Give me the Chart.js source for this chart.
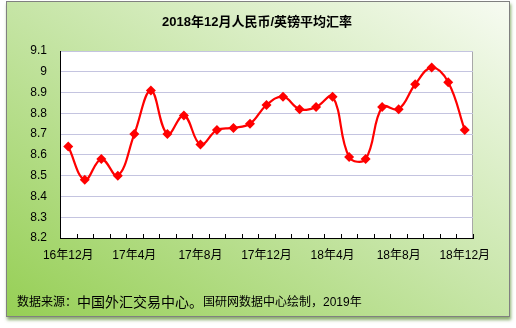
<!DOCTYPE html>
<html>
<head>
<meta charset="utf-8">
<script src="https://cdn.jsdelivr.net/npm/chart.js@4"></script>
<style>
  body { margin: 0; background: #fff; }
  #frame {
    position: absolute; left: 6px; top: 1px; width: 502px; height: 314px;
    border: 1px solid #808080;
    background: linear-gradient(to top right, #96cf55 0%, #c6e5a6 50%, #f7fbf2 100%);
    box-shadow: 1px 3px 3px rgba(90, 140, 50, 0.7);
  }
  #chart { position: absolute; left: 0; top: 0; }
</style>
</head>
<body>
<div id="frame"></div>
<canvas id="chart" width="516" height="328"></canvas>
<script>
// months from 16年12月 to 18年12月
const months = [
  '16年12月', '17年1月', '17年2月', '17年3月', '17年4月', '17年5月', '17年6月',
  '17年7月', '17年8月', '17年9月', '17年10月', '17年11月', '17年12月',
  '18年1月', '18年2月', '18年3月', '18年4月', '18年5月', '18年6月',
  '18年7月', '18年8月', '18年9月', '18年10月', '18年11月', '18年12月'
];
// average CNY per GBP
const rates = [
  8.64, 8.48, 8.58, 8.50, 8.70, 8.91, 8.70,
  8.79, 8.65, 8.72, 8.73, 8.75, 8.84,
  8.88, 8.82, 8.83, 8.88, 8.59, 8.58,
  8.83, 8.82, 8.94, 9.02, 8.95, 8.72
];
const yMin = 8.2;
const yMax = 9.1;
const yStep = 0.1;

const titleText = '2018年12月人民币/英镑平均汇率';
const sourceParts = ['数据来源：', '中国外汇交易中心。', '国研网数据中心绘制，2019年'];

const fontFamily = '"Liberation Sans", "Noto Sans CJK SC", sans-serif';

// white plot area with thin grey frame
const plotBg = {
  id: 'plotBg',
  beforeDraw(chart) {
    const { ctx, chartArea: a } = chart;
    ctx.save();
    ctx.fillStyle = '#ffffff';
    ctx.fillRect(a.left, a.top, a.right - a.left, a.bottom - a.top);
    ctx.strokeStyle = '#a8a8a8';
    ctx.lineWidth = 1;
    ctx.strokeRect(a.left + 0.5, a.top + 0.5, a.right - a.left - 1, a.bottom - a.top);
    ctx.restore();
  }
};

// title, tick marks pointing up into the plot, and the source line
const extras = {
  id: 'extras',
  afterDraw(chart) {
    const { ctx, chartArea: a } = chart;
    const xs = chart.scales.x;
    const half = (xs.getPixelForValue(1) - xs.getPixelForValue(0)) / 2;
    ctx.save();
    ctx.strokeStyle = '#000';
    ctx.lineWidth = 1;
    ctx.beginPath();
    for (let i = 0; i < months.length; i++) {
      const x = Math.round(xs.getPixelForValue(i) + half) + 0.5;
      ctx.moveTo(x, a.bottom);
      ctx.lineTo(x, a.bottom - 4);
    }
    ctx.stroke();

    ctx.fillStyle = '#000';
    ctx.textBaseline = 'middle';
    ctx.textAlign = 'center';
    ctx.font = 'bold 13px ' + fontFamily;
    ctx.fillText(titleText, 257, 22);

    // source note
    const sizes = [12, 14, 12];
    let x = 17;
    ctx.textAlign = 'left';
    sourceParts.forEach((t, i) => {
      ctx.font = sizes[i] + 'px ' + fontFamily;
      ctx.fillText(t, x, 303);
      x += ctx.measureText(t).width;
    });
    ctx.restore();
  }
};

new Chart(document.getElementById('chart'), {
  type: 'line',
  data: {
    labels: months,
    datasets: [{
      data: rates,
      borderColor: '#ff0000',
      backgroundColor: '#ff0000',
      borderWidth: 2.2,
      tension: 0.4,
      pointStyle: 'rectRot',
      pointRadius: 5,
      pointBorderWidth: 0,
      pointBackgroundColor: '#ff0000'
    }]
  },
  options: {
    responsive: false,
    animation: false,
    layout: { padding: { left: 0, right: 43, top: 51, bottom: 0 } },
    plugins: {
      legend: { display: false },
      tooltip: { enabled: false },
      title: { display: false }
    },
    scales: {
      x: {
        offset: true,
        grid: { display: false, offset: true },
        border: { display: true, color: '#000', width: 1 },
        ticks: {
          autoSkip: false,
          maxRotation: 0,
          padding: 2,
          color: '#000',
          font: { family: fontFamily, size: 12 },
          callback: (v, i) => (i % 4 === 0 ? months[i] : '')
        },
        afterFit: s => { s.height = 90; }
      },
      y: {
        min: yMin,
        max: yMax,
        grid: { color: '#c4c4e0', drawTicks: false },
        border: { display: true, color: '#000', width: 1 },
        ticks: {
          stepSize: yStep,
          padding: 13,
          color: '#000',
          font: { family: fontFamily, size: 12 },
          callback: v => String(+v.toFixed(1))
        },
        afterFit: s => { s.width = 60; }
      }
    }
  },
  plugins: [plotBg, extras]
});
</script>
</body>
</html>
